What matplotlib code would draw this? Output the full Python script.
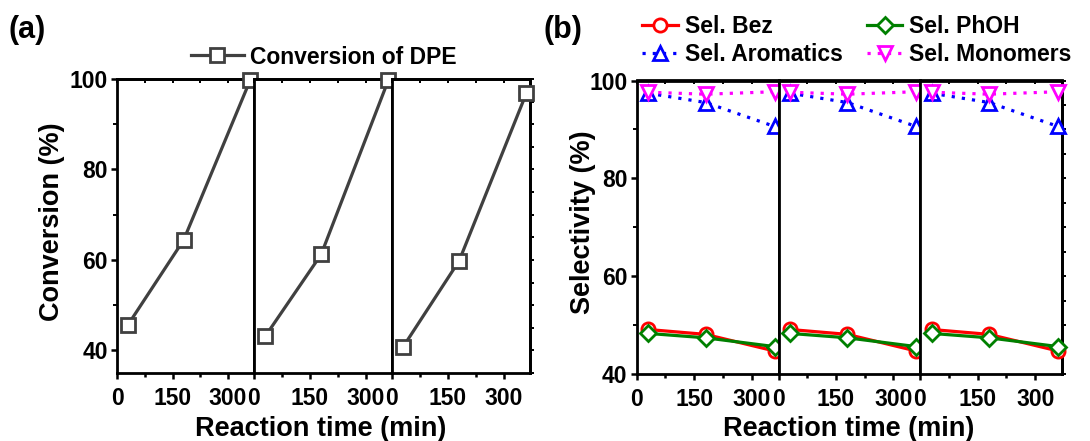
import matplotlib
matplotlib.use('Agg')
import matplotlib.pyplot as plt
from matplotlib.ticker import FixedLocator, MultipleLocator, NullFormatter

plt.rcParams['font.family'] = ['Liberation Sans', 'DejaVu Sans']
plt.rcParams['font.weight'] = 'bold'

# reaction time (min) for each run
times = [30, 180, 360]

# (a) conversion of DPE (%) for three successive runs
conv_run1 = [45.7, 64.4, 99.8]
conv_run2 = [43.1, 61.2, 99.7]
conv_run3 = [40.8, 59.8, 96.8]
conv_runs = [conv_run1, conv_run2, conv_run3]

# (b) selectivities (%) - same in the three runs
sel_bez = [49.1, 48.1, 44.7]
sel_phoh = [48.3, 47.4, 45.6]
sel_arom = [97.4, 95.5, 90.6]
sel_mono = [97.6, 97.2, 97.7]

W, H = 1090, 441
fig = plt.figure(figsize=(W / 100, H / 100), dpi=100)


def px_box(left, right, top, bottom):
    return [left / W, 1 - bottom / H, (right - left) / W, (bottom - top) / H]


def make_sub(rect, ylim, first):
    ax = fig.add_axes(rect)
    ax.set_xlim(0, 370)
    ax.set_ylim(*ylim)
    for sp in ax.spines.values():
        sp.set_linewidth(2)
    ax.xaxis.set_major_locator(FixedLocator([0, 150, 300]))
    ax.xaxis.set_minor_locator(FixedLocator([75, 225]))
    ax.tick_params(axis='x', which='major', direction='out', length=4, width=1.8,
                   pad=6, labelsize=16.5, top=False)
    ax.tick_params(axis='x', which='minor', direction='out', length=3, width=1.8, top=False)
    ax.yaxis.set_major_locator(MultipleLocator(20))
    ax.yaxis.set_minor_locator(MultipleLocator(10))
    if first:
        ax.tick_params(axis='y', which='major', direction='out', length=4.5, width=1.8,
                       pad=2, labelsize=16.5, right=False)
        ax.tick_params(axis='y', which='minor', direction='out', length=3, width=1.4, right=False)
    else:
        ax.tick_params(axis='y', which='both', left=False, labelleft=False, right=False)

    top = ax.secondary_xaxis('top')
    top.xaxis.set_major_locator(MultipleLocator(75))
    top.xaxis.set_major_formatter(NullFormatter())
    top.tick_params(direction='in', length=3, width=1.4)
    top.spines['top'].set_linewidth(2)

    right = ax.secondary_yaxis('right')
    right.yaxis.set_major_locator(MultipleLocator(5))
    right.yaxis.set_major_formatter(NullFormatter())
    right.tick_params(direction='out', length=3, width=1.4)
    right.spines['right'].set_linewidth(2)
    return ax


# ---- panel (a)
edges_a = [117, 254, 392, 530]
conv_line = None
for i, conv in enumerate(conv_runs):
    ax = make_sub(px_box(edges_a[i], edges_a[i + 1], 79, 373), (35, 100), i == 0)
    conv_line, = ax.plot(times, conv, '-s', color='#404040', linewidth=2.3,
                         markersize=9.5, markerfacecolor='white', markeredgewidth=2,
                         clip_on=False, zorder=3)

fig.legend(handles=[conv_line], labels=['Conversion of DPE'], loc='center',
           bbox_to_anchor=(324 / W, 1 - 57 / H), frameon=False, fontsize=16.5,
           handlelength=2.3, handletextpad=0.3, borderpad=0)
fig.text(52 / W, 1 - 222 / H, 'Conversion (%)', rotation=90, ha='center', va='center',
         fontsize=19.5, fontweight='bold')
fig.text(321 / W, 1 - 436 / H, 'Reaction time (min)', ha='center', va='baseline',
         fontsize=19.5, fontweight='bold')
fig.text(27.6 / W, 1 - 30 / H, '(a)', ha='center', va='center', fontsize=22, fontweight='bold')

# ---- panel (b)
edges_b = [636.5, 778.5, 920, 1062]
for i in range(3):
    ax = make_sub(px_box(edges_b[i], edges_b[i + 1], 80.5, 374), (40, 100), i == 0)
    l_bez, = ax.plot(times, sel_bez, '-o', color='#FF0000', linewidth=2.3, markersize=9.5,
                     markerfacecolor='white', markeredgewidth=2, clip_on=False, zorder=3)
    l_phoh, = ax.plot(times, sel_phoh, '-D', color='#008000', linewidth=2.3, markersize=8.5,
                      markerfacecolor='white', markeredgewidth=2, clip_on=False, zorder=4)
    l_arom, = ax.plot(times, sel_arom, color='#0000FF', linestyle=(0, (1, 2.2)), marker='^',
                      linewidth=2.3, markersize=10.5, markerfacecolor='white',
                      markeredgewidth=2, clip_on=False, zorder=3)
    l_mono, = ax.plot(times, sel_mono, color='#FF00FF', linestyle=(0, (1, 2.2)), marker='v',
                      linewidth=2.3, markersize=10.5, markerfacecolor='white',
                      markeredgewidth=2, clip_on=False, zorder=4)

fig.legend(handles=[l_bez, l_arom, l_phoh, l_mono],
           labels=['Sel. Bez', 'Sel. Aromatics', 'Sel. PhOH', 'Sel. Monomers'],
           ncol=2, loc='center', bbox_to_anchor=(857 / W, 1 - 40.5 / H), frameon=False,
           fontsize=16.5, handlelength=1.55, handletextpad=0.3, columnspacing=1.05,
           labelspacing=0.2, borderpad=0)
fig.text(582.5 / W, 1 - 222.5 / H, 'Selectivity (%)', rotation=90, ha='center', va='center',
         fontsize=19.5, fontweight='bold')
fig.text(849 / W, 1 - 436 / H, 'Reaction time (min)', ha='center', va='baseline',
         fontsize=19.5, fontweight='bold')
fig.text(563 / W, 1 - 30 / H, '(b)', ha='center', va='center', fontsize=22, fontweight='bold')

fig.savefig('out.png', dpi=100)
